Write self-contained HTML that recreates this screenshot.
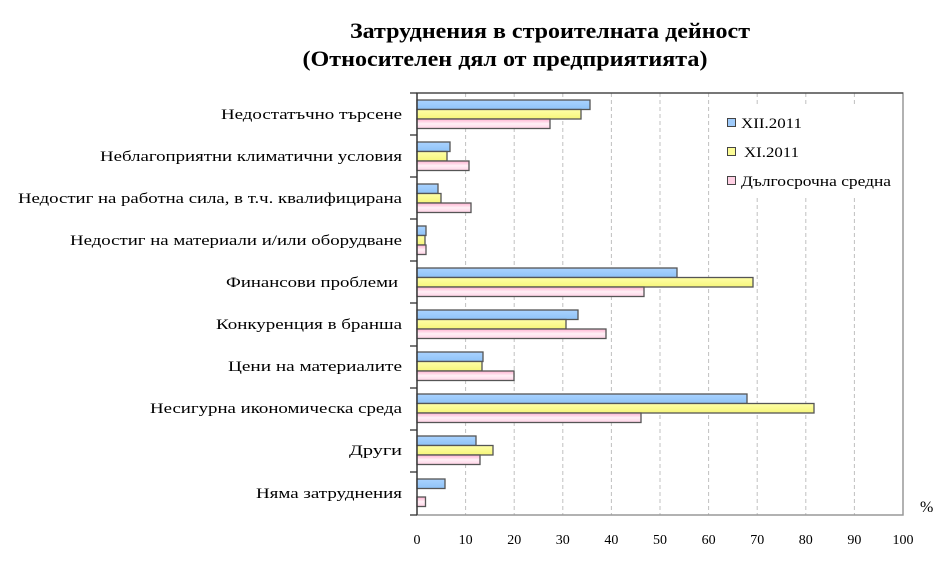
<!DOCTYPE html>
<html><head><meta charset="utf-8"><style>body{margin:0;background:#fff}svg{display:block}</style></head><body>
<svg width="945" height="578" xmlns="http://www.w3.org/2000/svg" font-family="Liberation Serif, serif">
<defs>
<linearGradient id="gb" x1="0" y1="0" x2="0" y2="1"><stop offset="0" stop-color="#a9d3ff"/><stop offset="1" stop-color="#8fc2f7"/></linearGradient>
<linearGradient id="gy" x1="0" y1="0" x2="0" y2="1"><stop offset="0" stop-color="#ffffa8"/><stop offset="1" stop-color="#f6f67a"/></linearGradient>
<linearGradient id="gp" x1="0" y1="0" x2="0" y2="1"><stop offset="0" stop-color="#ffb0d0"/><stop offset="0.5" stop-color="#fff0f6"/><stop offset="1" stop-color="#ffd0e4"/></linearGradient>
</defs>
<text x="550" y="38" text-anchor="middle" font-size="22" font-weight="bold" textLength="400" lengthAdjust="spacingAndGlyphs">Затруднения в строителната дейност</text>
<text x="505" y="66" text-anchor="middle" font-size="22" font-weight="bold" textLength="405" lengthAdjust="spacingAndGlyphs">(Относителен дял от предприятията)</text>
<g stroke="#c0c0c0" stroke-dasharray="4,3" stroke-width="1">
<line x1="465.6" y1="93" x2="465.6" y2="515"/><line x1="514.2" y1="93" x2="514.2" y2="515"/><line x1="562.8" y1="93" x2="562.8" y2="515"/><line x1="611.4" y1="93" x2="611.4" y2="515"/><line x1="660" y1="93" x2="660" y2="515"/><line x1="708.6" y1="93" x2="708.6" y2="515"/><line x1="757.2" y1="93" x2="757.2" y2="515"/><line x1="805.8" y1="93" x2="805.8" y2="515"/><line x1="854.4" y1="93" x2="854.4" y2="515"/>
</g>
<rect x="417" y="93" width="486" height="422" fill="none" stroke="#999" stroke-width="1.5"/>
<line x1="417" y1="93" x2="903" y2="93" stroke="#222" stroke-width="1"/>
<rect x="710" y="106" width="190" height="90" fill="#fff"/>
<g stroke="#555" stroke-width="1.3">
<rect x="417" y="100" width="173" height="9.5" fill="url(#gb)"/><rect x="417" y="109.5" width="164" height="9.5" fill="url(#gy)"/><rect x="417" y="119" width="133" height="9.5" fill="url(#gp)"/>
<rect x="417" y="142" width="33" height="9.5" fill="url(#gb)"/><rect x="417" y="151.5" width="30" height="9.5" fill="url(#gy)"/><rect x="417" y="161" width="52" height="9.5" fill="url(#gp)"/>
<rect x="417" y="184" width="21" height="9.5" fill="url(#gb)"/><rect x="417" y="193.5" width="24" height="9.5" fill="url(#gy)"/><rect x="417" y="203" width="54" height="9.5" fill="url(#gp)"/>
<rect x="417" y="226" width="9" height="9.5" fill="url(#gb)"/><rect x="417" y="235.5" width="8" height="9.5" fill="url(#gy)"/><rect x="417" y="245" width="9" height="9.5" fill="url(#gp)"/>
<rect x="417" y="268" width="260" height="9.5" fill="url(#gb)"/><rect x="417" y="277.5" width="336" height="9.5" fill="url(#gy)"/><rect x="417" y="287" width="227" height="9.5" fill="url(#gp)"/>
<rect x="417" y="310" width="161" height="9.5" fill="url(#gb)"/><rect x="417" y="319.5" width="149" height="9.5" fill="url(#gy)"/><rect x="417" y="329" width="189" height="9.5" fill="url(#gp)"/>
<rect x="417" y="352" width="66" height="9.5" fill="url(#gb)"/><rect x="417" y="361.5" width="65" height="9.5" fill="url(#gy)"/><rect x="417" y="371" width="97" height="9.5" fill="url(#gp)"/>
<rect x="417" y="394" width="330" height="9.5" fill="url(#gb)"/><rect x="417" y="403.5" width="397" height="9.5" fill="url(#gy)"/><rect x="417" y="413" width="224" height="9.5" fill="url(#gp)"/>
<rect x="417" y="436" width="59" height="9.5" fill="url(#gb)"/><rect x="417" y="445.5" width="76" height="9.5" fill="url(#gy)"/><rect x="417" y="455" width="63" height="9.5" fill="url(#gp)"/>
<rect x="417" y="479" width="28" height="9.5" fill="url(#gb)"/><rect x="417" y="497" width="8.5" height="9.5" fill="url(#gp)"/>
</g>
<g stroke="#333" stroke-width="1.3">
<line x1="417" y1="93" x2="417" y2="515"/>
<line x1="410" y1="93" x2="417" y2="93"/><line x1="410" y1="135" x2="417" y2="135"/><line x1="410" y1="177" x2="417" y2="177"/><line x1="410" y1="219" x2="417" y2="219"/><line x1="410" y1="261" x2="417" y2="261"/><line x1="410" y1="303" x2="417" y2="303"/><line x1="410" y1="346" x2="417" y2="346"/><line x1="410" y1="388" x2="417" y2="388"/><line x1="410" y1="430" x2="417" y2="430"/><line x1="410" y1="472" x2="417" y2="472"/><line x1="410" y1="515" x2="417" y2="515"/>
</g>
<g font-size="15" text-anchor="end">
<text x="402" y="119" textLength="181" lengthAdjust="spacingAndGlyphs">Недостатъчно търсене</text>
<text x="402" y="161" textLength="302" lengthAdjust="spacingAndGlyphs">Неблагоприятни климатични условия</text>
<text x="402" y="203" textLength="384" lengthAdjust="spacingAndGlyphs">Недостиг на работна сила, в т.ч. квалифицирана</text>
<text x="402" y="245" textLength="332" lengthAdjust="spacingAndGlyphs">Недостиг на материали и/или оборудване</text>
<text x="398" y="287" textLength="172" lengthAdjust="spacingAndGlyphs">Финансови проблеми</text>
<text x="402" y="329" textLength="186" lengthAdjust="spacingAndGlyphs">Конкуренция в бранша</text>
<text x="402" y="371" textLength="174" lengthAdjust="spacingAndGlyphs">Цени на материалите</text>
<text x="402" y="413" textLength="252" lengthAdjust="spacingAndGlyphs">Несигурна икономическа среда</text>
<text x="402" y="455" textLength="53" lengthAdjust="spacingAndGlyphs">Други</text>
<text x="402" y="498" textLength="146" lengthAdjust="spacingAndGlyphs">Няма затруднения</text>
</g>
<g font-size="14" text-anchor="middle">
<text x="417" y="544">0</text><text x="465.6" y="544">10</text><text x="514.2" y="544">20</text><text x="562.8" y="544">30</text><text x="611.4" y="544">40</text><text x="660" y="544">50</text><text x="708.6" y="544">60</text><text x="757.2" y="544">70</text><text x="805.8" y="544">80</text><text x="854.4" y="544">90</text><text x="903" y="544">100</text>
</g>
<text x="920" y="512" font-size="16">%</text>
<g stroke="#444" stroke-width="1">
<rect x="727.5" y="118.5" width="8" height="8" fill="#9fcbfb"/>
<rect x="727.5" y="147.5" width="8" height="8" fill="#fcfc96"/>
<rect x="727.5" y="176.5" width="8" height="8" fill="#ffd0e4"/>
</g>
<g font-size="15">
<text x="741" y="128" textLength="61" lengthAdjust="spacingAndGlyphs">XII.2011</text>
<text x="744" y="157" textLength="55" lengthAdjust="spacingAndGlyphs">XI.2011</text>
<text x="741" y="186" textLength="150" lengthAdjust="spacingAndGlyphs">Дългосрочна средна</text>
</g>
</svg>
</body></html>
